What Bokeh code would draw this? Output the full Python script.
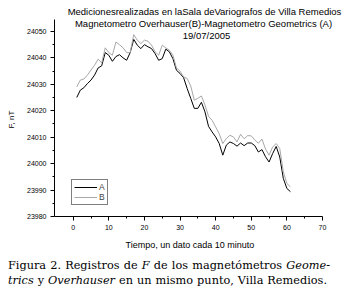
from bokeh.plotting import figure
from bokeh.layouts import column
from bokeh.models import Label, Legend, LegendItem, FixedTicker, Div
from bokeh.embed import file_html
from bokeh.resources import INLINE

# ---- data ----
tiempo = list(range(1, 62))
geometrics_a = [
    24025.0, 24027.8, 24028.7, 24030.3, 24031.6, 24033.5, 24036.2, 24037.0, 24042.0, 24041.0,
    24038.7, 24040.5, 24041.2, 24040.0, 24039.1, 24042.0, 24047.0, 24044.8, 24043.5, 24045.0,
    24044.2, 24043.5, 24041.6, 24039.1, 24039.7, 24043.3, 24042.3, 24039.7, 24035.3, 24034.1,
    24032.5, 24028.4, 24024.7, 24020.9, 24020.9, 24023.2, 24019.6, 24014.1, 24012.0, 24010.1,
    24007.6, 24003.2, 24007.0, 24008.2, 24007.6, 24006.6, 24007.8, 24006.8, 24007.8, 24007.8,
    24006.8, 24004.4, 24005.3, 24002.6, 24000.6, 24003.8, 24006.5, 24002.5, 23994.4, 23990.6,
    23989.4,
]
overhauser_b = [
    24029.0, 24031.6, 24032.0, 24033.5, 24035.4, 24037.2, 24039.5, 24038.1, 24043.8, 24042.0,
    24041.0, 24046.0, 24045.0, 24043.8, 24042.0, 24042.0, 24048.8, 24046.7, 24045.4, 24046.7,
    24046.3, 24044.8, 24042.3, 24041.0, 24044.8, 24043.8, 24042.9, 24041.0, 24036.2, 24035.0,
    24032.8, 24032.2, 24029.4, 24024.0, 24024.7, 24025.6, 24022.2, 24017.9, 24016.4, 24013.9,
    24011.3, 24007.6, 24009.5, 24010.7, 24010.1, 24008.2, 24011.1, 24009.4, 24010.6, 24010.5,
    24008.9, 24007.7, 24009.3, 24005.5, 24003.2, 24006.3, 24007.6, 24005.7, 23996.9, 23992.5,
    23991.2,
]
x_ticks = [0, 10, 20, 30, 40, 50, 60, 70]
x_minor = [5, 15, 25, 35, 45, 55, 65]
y_ticks = [23980, 23990, 24000, 24010, 24020, 24030, 24040, 24050]
y_minor = [23985, 23995, 24005, 24015, 24025, 24035, 24045]
x_axis_span = (-5.25, 70)
y_axis_span = (23980, 24054.5)

title_lines = [
    "Medicionesrealizadas en laSala deVariografos de Villa Remedios",
    "Magnetometro Overhauser(B)-Magnetometro Geometrics (A)",
    "19/07/2005",
]
x_label = "Tiempo, un dato cada 10 minuto"
y_label = "F, nT"

W = 349
PH = 255           # plot height
CH = 297 - PH      # caption height
ML, MR, MT, MB = 54, 4, 0, 39

p = figure(width=W, height=PH, x_range=(-5.25, 76.46), y_range=(23980, 24061.7),
           min_border_left=ML, min_border_right=MR, min_border_top=MT, min_border_bottom=MB,
           output_backend="svg", toolbar_location=None, title=None)
p.outline_line_color = None
p.grid.visible = False
p.background_fill_color = "white"
p.border_fill_color = "white"

SANS = "Liberation Sans"
for ax in (p.xaxis[0], p.yaxis[0]):
    ax.axis_line_color = "black"
    ax.axis_line_width = 1
    ax.major_tick_in = 0
    ax.major_tick_out = 4
    ax.minor_tick_in = 0
    ax.minor_tick_out = 2
    ax.major_tick_line_color = "black"
    ax.minor_tick_line_color = "black"
    ax.major_label_text_font = SANS
    ax.major_label_text_font_size = "7px"
    ax.major_label_text_color = "black"
    ax.axis_label_text_font = SANS
    ax.axis_label_text_font_style = "normal"
    ax.axis_label_text_color = "black"

NB = "\u00a0"
p.xaxis[0].bounds = x_axis_span
p.yaxis[0].bounds = y_axis_span
p.xaxis[0].ticker = FixedTicker(ticks=x_ticks, minor_ticks=x_minor)
p.yaxis[0].ticker = FixedTicker(ticks=y_ticks, minor_ticks=y_minor)
p.xaxis[0].major_label_standoff = 4
p.yaxis[0].major_label_standoff = 4
# trailing no-break spaces centre the labels on the drawn axis span, not the wider frame
p.xaxis[0].axis_label = x_label + NB * 8
p.xaxis[0].axis_label_text_font_size = "9px"
p.xaxis[0].axis_label_standoff = 7
p.yaxis[0].axis_label = y_label + NB * 10
p.yaxis[0].axis_label_text_font_size = "8px"
p.yaxis[0].axis_label_standoff = 8

ra = p.line(tiempo, geometrics_a, line_color="black", line_width=1.0)
rb = p.line(tiempo, overhauser_b, line_color="#a8a8a8", line_width=1.0)

leg = Legend(items=[LegendItem(label="A", renderers=[ra]), LegendItem(label="B", renderers=[rb])],
             location=(17, 11), orientation="vertical",
             glyph_width=23, glyph_height=10, label_height=10, label_width=5,
             label_standoff=2, spacing=0, padding=2, margin=0,
             label_text_font=SANS, label_text_font_size="8.5px",
             border_line_color="black", border_line_width=1,
             background_fill_color="white", background_fill_alpha=1)
p.add_layout(leg, "center")

FB = PH - MB  # frame bottom in canvas px


def lab(text, xs, ys, size):
    p.add_layout(Label(x=xs - ML, y=FB - ys, x_units="screen", y_units="screen", text=text,
                       text_font=SANS, text_font_size=size, text_align="center",
                       text_baseline="alphabetic", text_color="black"))


title_pos = [(204, 11), (203, 23), (206, 35)]
for t, (xs, ys) in zip(title_lines, title_pos):
    lab(t, xs, ys, "9.5px")

cap_style = ("font-family:'DejaVu Serif',serif;font-size:11.3px;line-height:15px;color:#000;"
             "padding:3px 0 0 8px;margin:0;")
line_style = "text-align:justify;text-align-last:justify;margin:0;padding:0;"
cap_html = (
    f'<div style="{cap_style}">'
    f'<div style="{line_style}width:322px;">Figura 2. Registros de <i>F</i> de los magnetómetros <i>Geome-</i></div>'
    f'<div style="{line_style}width:319px;"><i>trics</i> y <i>Overhauser</i> en un mismo punto, Villa Remedios.</div>'
    '</div>'
)
cap = Div(text=cap_html, width=W, height=CH, margin=0)

layout = column(p, cap, spacing=0)
open("out.html", "w").write(file_html(layout, INLINE))
